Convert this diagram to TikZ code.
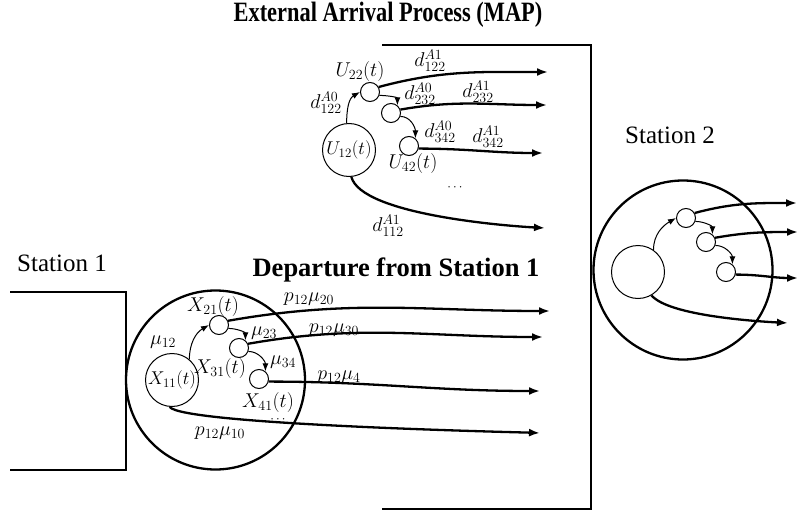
\RequirePackage{fix-cm}
\documentclass[tikz,border=0pt]{standalone}
\usepackage{fontspec}
\usepackage{graphicx}
\setmainfont{Liberation Serif}
\usetikzlibrary{arrows.meta}
\begin{document}
\begin{tikzpicture}[x=1pt,y=-1pt,
  thickl/.style={line width=2.3pt},
  sm/.style={circle,draw,line width=1pt,minimum size=19pt,inner sep=0pt},
  big/.style={circle,draw,line width=1pt,minimum size=53pt,inner sep=0pt,font=\fontsize{18.5}{20}\selectfont},
  outer/.style={circle,draw,line width=2.3pt,minimum size=179pt,inner sep=0pt},
  flow/.style={line width=2.3pt,-{Latex[length=11pt,width=8pt]}},
  trans/.style={line width=1pt,-{Latex[length=8pt,width=6pt]}},
  lab/.style={font=\fontsize{20}{22}\selectfont,inner sep=0pt},
  dts/.style={font=\fontsize{13}{15}\selectfont,inner sep=0pt},
  ttl/.style={font=\fontsize{28}{32}\selectfont\bfseries,inner sep=0pt},
  dep/.style={font=\fontsize{26.5}{30}\selectfont\bfseries,inner sep=0pt},
  stn/.style={font=\fontsize{25}{28}\selectfont,inner sep=0pt}]
\useasboundingbox (0,0) rectangle (798,511);

% titles
\node[ttl] (t1) at (388,15) {\scalebox{0.8}[1]{External Arrival Process (MAP)}};
\node[dep] (t2) at (396,270) {Departure from Station 1};
\node[stn] (s1) at (62,263) {Station 1};
\node[stn] (s2) at (670,135) {Station 2};

% station boxes
\draw[thickl] (10,292) -| (126,470) -- (10,470);
\draw[thickl] (382,45) -| (591,509) -- (382,509);

% ---------- Station 1 ----------
\node[outer] (S1) at (215.5,380) {};
\node[big] (X11) at (172,380) {$X_{11}(t)$};
\node[sm] (X21) at (219,325) {};
\node[sm] (X31) at (239,348) {};
\node[sm] (X41) at (259,379) {};
\coordinate (e1) at (550,311);
\coordinate (e2) at (543,337);
\coordinate (e3) at (540,391);
\coordinate (e4) at (540,433);
\draw[trans] (X11.50) to[out=90,in=210] (X21.west);
\draw[trans] (X21.-20) to[out=0,in=90] (X31.50);
\draw[trans] (X31.-20) to[out=0,in=90] (X41.50);
\draw[flow] (X21.25) to[out=10,in=180] (e1);
\draw[flow] (X31.25) to[out=10,in=180] (e2);
\draw[flow] (X41.-15) to[out=0,in=180] (e3);
\draw[flow] (X11.-95) to[out=-55,in=178,looseness=0.15] (e4);

\node[lab] (lx21) at (213,306) {$X_{21}(t)$};
\node[lab] (lm12) at (163,342) {$\mu_{12}$};
\node[lab] (lm23) at (264,333) {$\mu_{23}$};
\node[lab] (lx31) at (220,368) {$X_{31}(t)$};
\node[lab] (lm34) at (283,362) {$\mu_{34}$};
\node[lab] (lx41) at (268,402) {$X_{41}(t)$};
\node[dts] (ld1) at (278,420) {$\cdots$};
\node[lab] (lp10) at (220,433) {$p_{12}\mu_{10}$};
\node[lab] (lp20) at (309,299) {$p_{12}\mu_{20}$};
\node[lab] (lp30) at (334,330) {$p_{12}\mu_{30}$};
\node[lab] (lp4) at (339,377) {$p_{12}\mu_{4}$};

% ---------- Arrival process ----------
\node[big] (U12) at (349,150) {$U_{12}(t)$};
\node[sm] (U22) at (370,92) {};
\node[sm] (U32) at (391,113) {};
\node[sm] (U42) at (409,146) {};
\coordinate (a1) at (548,72);
\coordinate (a2) at (547,105);
\coordinate (a3) at (543,153);
\coordinate (a4) at (545,228);
\draw[trans] (U12.95) to[out=90,in=210] (U22.west);
\draw[trans] (U22.-20) to[out=0,in=90] (U32.50);
\draw[trans] (U32.-20) to[out=0,in=90] (U42.50);
\draw[flow] (U22.30) to[out=15,in=180] (a1);
\draw[flow] (U32.20) to[out=10,in=180] (a2);
\draw[flow] (U42.-15) to[out=0,in=180] (a3);
\draw[flow] (U12.-85) to[out=-75,in=177,looseness=0.5] (a4);

\node[lab] (lu22) at (360,72) {$U_{22}(t)$};
\node[lab] (la1) at (430,61) {$d^{A1}_{122}$};
\node[lab] (la0) at (326,103) {$d^{A0}_{122}$};
\node[lab] (lb0) at (420,94) {$d^{A0}_{232}$};
\node[lab] (lb1) at (478,92) {$d^{A1}_{232}$};
\node[lab] (lc0) at (440,132) {$d^{A0}_{342}$};
\node[lab] (lc1) at (488,137) {$d^{A1}_{342}$};
\node[lab] (lu42) at (413,163) {$U_{42}(t)$};
\node[dts] (ld2) at (455,188) {$\cdots$};
\node[lab] (ld112) at (388,226) {$d^{A1}_{112}$};

% ---------- Station 2 ----------
\node[outer] (S2) at (683,270) {};
\node[big] (Y11) at (638,272) {};
\node[sm] (Y21) at (686,218) {};
\node[sm] (Y31) at (706,242) {};
\node[sm] (Y41) at (726,272) {};
\coordinate (b1) at (797,203);
\coordinate (b2) at (798,232);
\coordinate (b3) at (798,278);
\coordinate (b4) at (788,323);
\draw[trans] (Y11.55) to[out=90,in=210] (Y21.west);
\draw[trans] (Y21.-20) to[out=0,in=90] (Y31.50);
\draw[trans] (Y31.-20) to[out=0,in=90] (Y41.50);
\draw[flow] (Y21.30) to[out=15,in=180] (b1);
\draw[flow] (Y31.25) to[out=10,in=180] (b2);
\draw[flow] (Y41.-15) to[out=0,in=180] (b3);
\draw[flow] (Y11.-60) to[out=-50,in=177,looseness=0.5] (b4);
\end{tikzpicture}
\end{document}
